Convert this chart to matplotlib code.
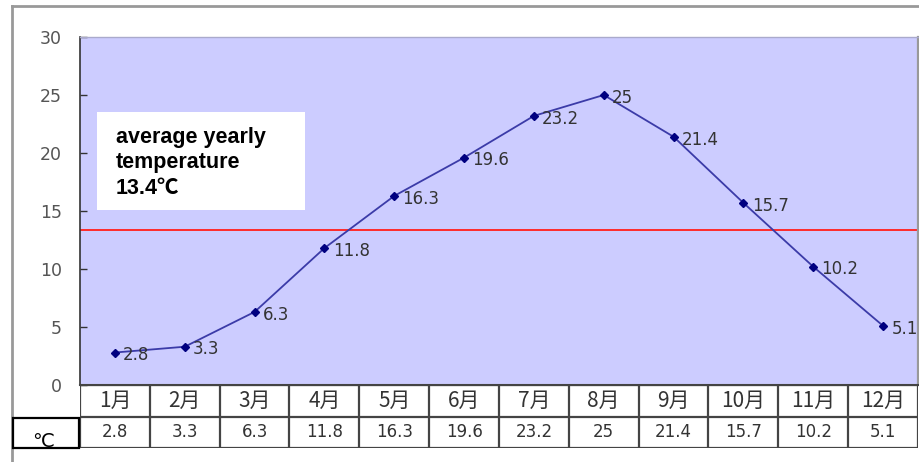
import matplotlib
matplotlib.use('Agg')
import matplotlib.pyplot as plt
from matplotlib.patches import Rectangle
from matplotlib.lines import Line2D

# ---- data ----
months = ['1月', '2月', '3月', '4月', '5月', '6月', '7月', '8月', '9月', '10月', '11月', '12月']
temps = [2.8, 3.3, 6.3, 11.8, 16.3, 19.6, 23.2, 25, 21.4, 15.7, 10.2, 5.1]
value_labels = ['2.8', '3.3', '6.3', '11.8', '16.3', '19.6', '23.2', '25', '21.4', '15.7', '10.2', '5.1']
average = 13.4
y_ticks = [0, 5, 10, 15, 20, 25, 30]
unit_label = '℃'
note_lines = ['average yearly', 'temperature', '13.4℃']

W, H = 920, 462
fig = plt.figure(figsize=(W / 100, H / 100), dpi=100)
fig.patch.set_facecolor('white')


def fx(px):
    return px / W


def fy(py):
    return 1 - py / H


# ---- main plot area ----
ax = fig.add_axes([fx(80), fy(385), fx(918) - fx(80), fy(37) - fy(385)])
ax.set_facecolor('#CCCCFF')
xs = list(range(1, len(temps) + 1))
ax.axhline(average, color='#ff2a2a', lw=1.4, zorder=2)
ax.plot(xs, temps, color='#3b3ba8', lw=1.3, marker='D', ms=4.2,
        mfc='#000080', mec='#000080', zorder=3)
for xi, t, lab in zip(xs, temps, value_labels):
    ax.annotate(lab, (xi, t), xytext=(6, -2), textcoords='offset points',
                va='center', ha='left', fontsize=12, color='#333333',
                family='DejaVu Sans', annotation_clip=False, zorder=4)
ax.set_xlim(0.5, len(temps) + 0.5)
ax.set_ylim(0, 30)
ax.set_yticks(y_ticks)
ax.set_xticks([])
ax.tick_params(axis='y', direction='in', length=5, width=1, pad=13,
               labelsize=12.5, labelcolor='#555555', color='#333333')
ax.spines['left'].set_color('#333333')
ax.spines['left'].set_linewidth(1.2)
ax.spines['bottom'].set_color('#444444')
ax.spines['bottom'].set_linewidth(1.5)
ax.spines['top'].set_color('#aaaacc')
ax.spines['top'].set_linewidth(1.0)
ax.spines['right'].set_color('#999999')
ax.spines['right'].set_linewidth(1.6)

# ---- data table under the chart ----
tax = fig.add_axes([fx(80), fy(448), fx(918) - fx(80), fy(385) - fy(448)])
tax.set_xlim(0.5, len(temps) + 0.5)
tax.set_ylim(0, 2)
tax.axis('off')
edges = [i + 0.5 for i in range(len(temps) + 1)]
tax.vlines(edges, 0, 2, color='#444444', lw=1.6)
tax.hlines([0, 1, 2], 0.5, len(temps) + 0.5, color='#444444', lw=1.6)
for xi, m, v in zip(xs, months, value_labels):
    tax.text(xi, 1.5, m, ha='center', va='center', fontsize=15, color='#333333',
             family=['Noto Sans CJK JP', 'DejaVu Sans'])
    tax.text(xi, 0.5, v, ha='center', va='center', fontsize=12, color='#333333',
             family='DejaVu Sans')

# unit cell
fig.patches.append(Rectangle((fx(13), fy(448)), fx(79) - fx(13), fy(418) - fy(448),
                             transform=fig.transFigure, facecolor='white',
                             edgecolor='black', lw=1.6, zorder=5))
fig.text(fx(43), fy(447), unit_label, ha='center', va='baseline', fontsize=14,
         color='black', family='DejaVu Sans', zorder=6)

# ---- annotation box ----
fig.patches.append(Rectangle((fx(97), fy(210)), fx(305) - fx(97), fy(112) - fy(210),
                             transform=fig.transFigure, facecolor='white',
                             edgecolor='none', zorder=5))
fig.text(fx(116), fy(127), '\n'.join(note_lines), ha='left', va='top',
         fontsize=15.5, fontweight='bold', color='black', linespacing=1.27,
         family=['Liberation Sans', 'Noto Sans CJK JP'], zorder=6)

# ---- outer frame ----
fig.lines.append(Line2D([fx(12), fx(920)], [fy(6), fy(6)], transform=fig.transFigure,
                        color='#999999', lw=2))
fig.lines.append(Line2D([fx(12), fx(12)], [fy(6), fy(462)], transform=fig.transFigure,
                        color='#999999', lw=2))

fig.savefig('out.png', dpi=100)
